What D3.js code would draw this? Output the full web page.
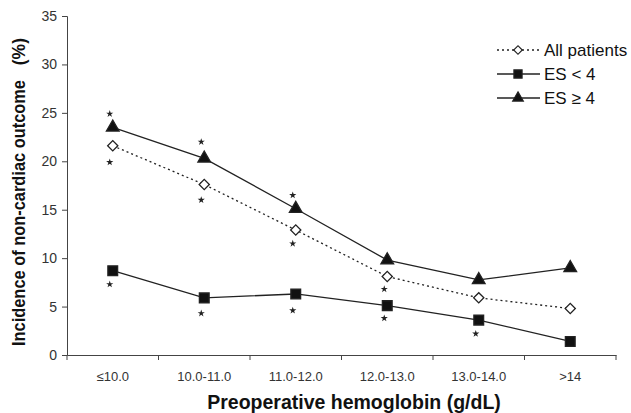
<!DOCTYPE html>
<html>
<head>
<style>
  body { margin: 0; background: #fff; }
  svg { font-family: 'Liberation Sans', Arial, sans-serif; }
</style>
</head>
<body>
<div id="chart"></div>
<script src="https://cdn.jsdelivr.net/npm/d3@7/dist/d3.min.js"></script>
<script>
// data
const categories = ["≤10.0", "10.0-11.0", "11.0-12.0", "12.0-13.0", "13.0-14.0", ">14"];
const allPatients = [21.6, 17.6, 12.9, 8.1, 5.9, 4.8];
const esLow = [8.7, 5.9, 6.3, 5.1, 3.6, 1.4];
const esHigh = [23.5, 20.3, 15.1, 9.8, 7.75, 9.0];
const yTicks = [0, 5, 10, 15, 20, 25, 30, 35];
// significance stars: category index, value
const starCats = [0, 0, 0, 1, 1, 1, 2, 2, 2, 3, 3, 4];
const starVals = [24.9, 19.9, 7.3, 22.0, 16.0, 4.3, 16.5, 11.5, 4.6, 6.8, 3.8, 2.2];

const W = 631, H = 413;
const margin = {top: 16, right: 15, bottom: 58, left: 67};
const width = W - margin.left - margin.right;
const height = H - margin.top - margin.bottom;

const svg = d3.select("#chart").append("svg")
    .attr("width", W).attr("height", H);
const g = svg.append("g")
    .attr("transform", `translate(${margin.left},${margin.top})`);

const x = d3.scaleBand().domain(d3.range(categories.length)).range([0, width]);
const y = d3.scaleLinear().domain([0, 35]).range([height, 0]);
const cx = i => x(i) + x.bandwidth() / 2;

// axes
const yAxis = g.append("g")
    .call(d3.axisLeft(y).tickValues(yTicks).tickSize(5).tickPadding(5));
yAxis.selectAll("text").attr("font-size", 14).attr("fill", "#333");

const xAxis = g.append("g").attr("transform", `translate(0,${height})`)
    .call(d3.axisBottom(x).tickSize(0).tickFormat(i => categories[i]).tickPadding(17));
xAxis.selectAll("text").attr("font-size", 13).attr("fill", "#333");
// boundary ticks
xAxis.selectAll(".btick").data(d3.range(categories.length + 1)).enter().append("line")
    .attr("class", "btick")
    .attr("x1", i => i * x.bandwidth()).attr("x2", i => i * x.bandwidth())
    .attr("y1", 0).attr("y2", 5).attr("stroke", "#444");
g.selectAll(".domain").attr("stroke", "#444");
g.selectAll(".tick line").attr("stroke", "#444");

// titles
svg.append("text")
    .attr("x", 354).attr("y", 409)
    .attr("text-anchor", "middle").attr("font-weight", "bold").attr("font-size", 19.5)
    .attr("fill", "#111")
    .text("Preoperative hemoglobin (g/dL)");
const yTitle = svg.append("g").attr("transform", "translate(25,0) rotate(-90)");
yTitle.append("text")
    .attr("x", -346).attr("y", 0)
    .attr("font-weight", "bold").attr("font-size", 17.5).attr("fill", "#111")
    .attr("textLength", 266).attr("lengthAdjust", "spacingAndGlyphs")
    .text("Incidence of non-cardiac outcome");
yTitle.append("text")
    .attr("x", -38).attr("y", 0).attr("text-anchor", "end")
    .attr("font-weight", "bold").attr("font-size", 17.5).attr("fill", "#111")
    .text("(%)");

const line = d3.line().x((d, i) => cx(i)).y(d => y(d));

const series = [
  {name: "All patients", values: allPatients, dash: "2,3", sym: d3.symbolSquare, rot: 45, size: 52, fill: "#fff"},
  {name: "ES < 4", values: esLow, dash: null, sym: d3.symbolSquare, rot: 0, size: 95, fill: "#111"},
  {name: "ES ≥ 4", values: esHigh, dash: null, sym: d3.symbolTriangle, rot: 0, size: 70, fill: "#111"}
];

series.forEach(s => {
  g.append("path").datum(s.values)
    .attr("d", line).attr("fill", "none")
    .attr("stroke", "#222").attr("stroke-width", 1.3)
    .attr("stroke-dasharray", s.dash);
});
series.forEach(s => {
  g.selectAll(null).data(s.values).enter().append("path")
    .attr("d", d3.symbol().type(s.sym).size(s.size))
    .attr("transform", (d, i) => `translate(${cx(i)},${y(d)}) rotate(${s.rot})`)
    .attr("fill", s.fill).attr("stroke", "#222").attr("stroke-width", 1.3);
});

// stars
g.selectAll(".star").data(starVals).enter().append("path")
    .attr("class", "star")
    .attr("d", d3.symbol().type(d3.symbolStar).size(16))
    .attr("transform", (d, i) => `translate(${cx(starCats[i]) - 3},${y(d)})`)
    .attr("fill", "#222");

// legend
const legend = svg.append("g").attr("transform", "translate(497,50)");
series.forEach((s, i) => {
  const row = legend.append("g").attr("transform", `translate(0,${i * 24})`);
  row.append("line").attr("x1", 0).attr("x2", 43).attr("y1", 0).attr("y2", 0)
    .attr("stroke", "#222").attr("stroke-width", 1.3).attr("stroke-dasharray", s.dash);
  row.append("path")
    .attr("d", d3.symbol().type(s.sym).size(s.size * 0.7))
    .attr("transform", `translate(21,0) rotate(${s.rot})`)
    .attr("fill", s.fill).attr("stroke", "#222").attr("stroke-width", 1.2);
  row.append("text").attr("x", 47).attr("y", 6)
    .attr("font-size", 17).attr("fill", "#111").text(s.name);
});
</script>
</body>
</html>
